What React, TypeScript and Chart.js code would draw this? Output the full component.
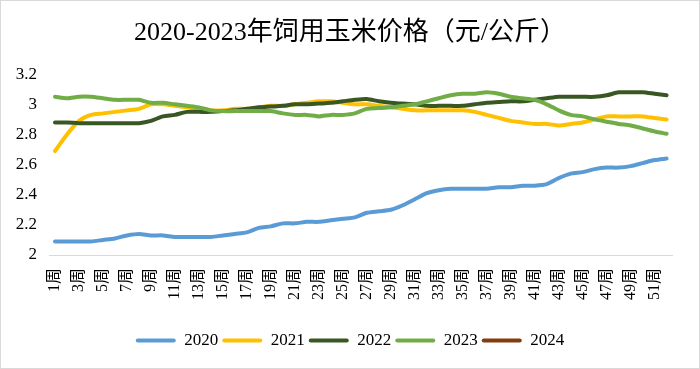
import React, { useEffect, useRef } from "react";
import { Chart, registerables } from "chart.js";

Chart.register(...registerables);

const TITLE = "2020-2023年饲用玉米价格（元/公斤）";

const weeks: string[] = Array.from({ length: 52 }, (_, i) => `${i + 1}周`);

const seriesNames = ["2020", "2021", "2022", "2023", "2024"];
const seriesColors = ["#5B9BD5", "#FFC000", "#385723", "#70AD47", "#843C0C"];

const v2020 = [
  2.09, 2.09, 2.09, 2.09, 2.10, 2.11, 2.13, 2.14, 2.13, 2.13,
  2.12, 2.12, 2.12, 2.12, 2.13, 2.14, 2.15, 2.18, 2.19, 2.21,
  2.21, 2.22, 2.22, 2.23, 2.24, 2.25, 2.28, 2.29, 2.30, 2.33,
  2.37, 2.41, 2.43, 2.44, 2.44, 2.44, 2.44, 2.45, 2.45, 2.46,
  2.46, 2.47, 2.51, 2.54, 2.55, 2.57, 2.58, 2.58, 2.59, 2.61,
  2.63, 2.64,
];

const v2021 = [
  2.69, 2.80, 2.89, 2.93, 2.94, 2.95, 2.96, 2.97, 3.00, 3.00,
  2.99, 2.98, 2.97, 2.96, 2.96, 2.97, 2.97, 2.98, 2.99, 2.99,
  3.00, 3.01, 3.02, 3.02, 3.01, 3.00, 3.00, 2.99, 2.98, 2.97,
  2.96, 2.96, 2.96, 2.96, 2.96, 2.95, 2.93, 2.91, 2.89, 2.88,
  2.87, 2.87, 2.86, 2.87, 2.88, 2.90, 2.92, 2.92, 2.92, 2.92,
  2.91, 2.90,
];

const v2022 = [
  2.88, 2.88, 2.875, 2.875, 2.875, 2.875, 2.875, 2.875, 2.89, 2.92,
  2.93, 2.95, 2.95, 2.95, 2.955, 2.96, 2.97, 2.98, 2.985, 2.99,
  3.00, 3.00, 3.005, 3.01, 3.02, 3.03, 3.035, 3.02, 3.01, 3.005,
  3.00, 2.99, 2.99, 2.99, 2.99, 3.00, 3.01, 3.015, 3.02, 3.02,
  3.03, 3.04, 3.05, 3.05, 3.05, 3.05, 3.06, 3.08, 3.08, 3.08,
  3.07, 3.06,
];

const v2023 = [
  3.05, 3.04, 3.05, 3.05, 3.04, 3.03, 3.03, 3.03, 3.01, 3.01,
  3.00, 2.99, 2.98, 2.96, 2.955, 2.955, 2.955, 2.955, 2.955, 2.94,
  2.93, 2.93, 2.92, 2.93, 2.93, 2.94, 2.97, 2.975, 2.98, 2.99,
  3.00, 3.02, 3.04, 3.06, 3.07, 3.07, 3.08, 3.07, 3.05, 3.04,
  3.03, 3.00, 2.96, 2.93, 2.92, 2.90, 2.885, 2.87, 2.86, 2.84,
  2.82, 2.805,
];

const v2024: (number | null)[] = [];

const seriesValues = [v2020, v2021, v2022, v2023, v2024];

const Y_MIN = 2;
const Y_MAX = 3.2;
const Y_STEP = 0.2;

const SERIF = "'Times New Roman', 'Liberation Serif', 'Noto Sans CJK SC', serif";

export default function App() {
  const canvasRef = useRef<HTMLCanvasElement | null>(null);

  useEffect(() => {
    const canvas = canvasRef.current;
    if (!canvas) return;
    const chart = new Chart(canvas, {
      type: "line",
      data: {
        labels: weeks,
        datasets: seriesNames.map((name, i) => ({
          label: name,
          data: seriesValues[i],
          borderColor: seriesColors[i],
          backgroundColor: seriesColors[i],
          borderWidth: 4,
          pointRadius: 0,
          pointHoverRadius: 0,
          tension: 0.25,
          borderCapStyle: "round" as const,
          borderJoinStyle: "round" as const,
          fill: false,
          yAxisID: "y",
          order: seriesNames.length - 1 - i,
        })),
      },
      options: {
        responsive: false,
        animation: false,
        layout: { padding: { top: 0, left: 0, right: 0, bottom: 9 } },
        plugins: {
          tooltip: { enabled: false },
          title: {
            display: true,
            text: TITLE,
            color: "#000",
            font: { family: SERIF, size: 26, weight: "normal" },
            padding: { top: 17, bottom: 25 },
          },
          legend: {
            position: "bottom",
            labels: {
              boxWidth: 40,
              boxHeight: 4,
              padding: 4,
              color: "#000",
              font: { family: SERIF, size: 17 },
              useBorderRadius: true,
              borderRadius: 2,
              sort: (a: any, b: any) => a.datasetIndex - b.datasetIndex,
              generateLabels: (c: any) => {
                const items = Chart.defaults.plugins.legend.labels.generateLabels(c);
                items.forEach((it: any) => {
                  it.lineWidth = 0;
                  it.fillStyle = it.strokeStyle;
                });
                return items;
              },
            },
          },
        },
        scales: {
          x: {
            offset: true,
            grid: { display: true, drawOnChartArea: false, drawTicks: false },
            border: { display: true, color: "#d9d9d9", width: 1 },
            ticks: {
              autoSkip: false,
              minRotation: 90,
              maxRotation: 90,
              padding: 13,
              color: "#000",
              font: { family: SERIF, size: 16 },
              callback: function (this: any, val: any, index: number) {
                return index % 2 === 0 ? this.getLabelForValue(val) : "";
              },
            },
            afterFit: (scale: any) => {
              scale.height = 73;
            },
          },
          y: {
            min: Y_MIN,
            max: Y_MAX,
            grid: { display: false, drawTicks: false },
            border: { display: false },
            ticks: {
              stepSize: Y_STEP,
              padding: 12,
              color: "#000",
              font: { family: SERIF, size: 17 },
              callback: (v: any) => String(Number(Number(v).toFixed(1))),
            },
            afterFit: (scale: any) => {
              scale.width = 48;
            },
          },
          yRight: {
            type: "linear",
            position: "right",
            display: true,
            grid: { display: false, drawTicks: false },
            border: { display: false },
            ticks: { display: false },
            afterFit: (scale: any) => {
              scale.width = 19;
            },
          },
        },
      },
    });
    return () => chart.destroy();
  }, []);

  return (
    <div
      style={{
        position: "absolute",
        left: 0,
        top: 0,
        width: 700,
        height: 369,
        boxSizing: "border-box",
        border: "1px solid #d9d9d9",
        background: "#fff",
      }}
    >
      <canvas ref={canvasRef} width={698} height={367} style={{ display: "block" }} />
    </div>
  );
}
